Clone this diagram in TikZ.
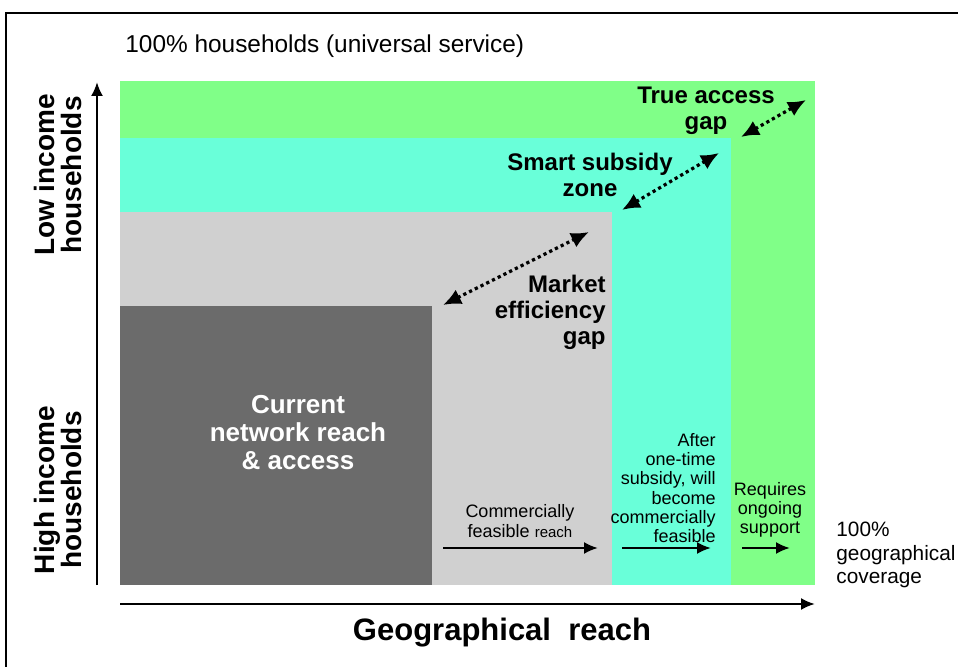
\documentclass[tikz,border=0pt]{standalone}
\usepackage{fontspec}
\setmainfont{Liberation Sans}
\usetikzlibrary{arrows.meta}
\definecolor{zonegreen}{HTML}{80FF88}
\definecolor{zonecyan}{HTML}{69FFD9}
\definecolor{zonegrey}{HTML}{D0D0D0}
\definecolor{reachgrey}{HTML}{6B6B6B}

\begin{document}
\begin{tikzpicture}[x=0.5pt, y=-0.5pt,
      zonelabel/.style={font=\bfseries\fontsize{12}{13}\selectfont, align=center, inner sep=0pt},
      smalllabel/.style={font=\fontsize{9}{9.6}\selectfont, align=center, inner sep=0pt},
      sidelabel/.style={font=\bfseries\fontsize{14}{13.5}\selectfont, align=center, rotate=90, inner sep=0pt},
      gaparrow/.style={{Latex[length=9pt,width=8pt]}-{Latex[length=9pt,width=8pt]}, line width=1.6pt, dash pattern=on 1.6pt off 1.6pt},
      reacharrow/.style={-{Latex[length=7pt,width=6pt]}, line width=1.1pt},
      axisarrow/.style={-{Latex[length=7pt,width=6pt]}, line width=1.1pt}
    ]
      \useasboundingbox (0,0) rectangle (958,667);
      \draw[line width=1.2pt] (6,667) -- (6,13) -- (958,13);
      % zones
      \fill[zonegreen] (120,81) rectangle (815,585);
      \fill[zonecyan] (120,138) rectangle (731,585);
      \fill[zonegrey] (120,212) rectangle (612,585);
      \fill[reachgrey] (120,306) rectangle (432,585);
      % axes
      \coordinate (o) at (97,585);
      \coordinate (ytop) at (97,82);
      \coordinate (xl) at (120,604);
      \coordinate (xr) at (815,604);
      \draw[axisarrow] (o) -- (ytop);
      \draw[axisarrow] (xl) -- (xr);
      \node[font=\bfseries\fontsize{15.5}{16}\selectfont] (xt) at (502,633) {Geographical\ \ reach};
      \node[font=\fontsize{12.2}{13}\selectfont, anchor=west, inner sep=0pt] (top) at (125,46) {100\% households (universal service)};
      \node[sidelabel] (low) at (58,175) {Low income\\households};
      \node[sidelabel] (high) at (58,490) {High income\\households};
      \node[font=\fontsize{10.4}{11.6}\selectfont, align=left, anchor=west, inner sep=0pt] (full) at (836,555) {100\%\\geographical\\coverage};
      % zone labels
      \node[font=\bfseries\fontsize{13}{14}\selectfont, text=white, align=center, inner sep=0pt] (cur) at (298,433) {Current\\network reach\\\& access};
      \node[zonelabel, align=right, anchor=east] (meg) at (606,312) {Market\\efficiency\\gap};
      \node[zonelabel] (ssz) at (590,175) {Smart subsidy\\zone};
      \node[zonelabel] (tag) at (706,111) {True access\\gap};
      % gap arrows
      \coordinate (g1a) at (443,305);
      \coordinate (g1b) at (589,232);
      \coordinate (g2a) at (622,210);
      \coordinate (g2b) at (719,153);
      \coordinate (g3a) at (741,137);
      \coordinate (g3b) at (806,100);
      \draw[gaparrow] (g1a) -- (g1b);
      \draw[gaparrow] (g2a) -- (g2b);
      \draw[gaparrow] (g3a) -- (g3b);
      % reach labels
      \node[smalllabel] (cf) at (520,521) {Commercially\\feasible {\fontsize{7.5}{9}\selectfont reach}};
      \node[smalllabel, align=right, anchor=east] (ots) at (716,488) {After\\one-time\\subsidy, will\\become\\commercially\\feasible};
      \node[smalllabel] (ros) at (770,510) {Requires\\ongoing\\support};
      \coordinate (r1a) at (443,548);
      \coordinate (r1b) at (598,548);
      \coordinate (r2a) at (622,548);
      \coordinate (r2b) at (711,548);
      \coordinate (r3a) at (742,548);
      \coordinate (r3b) at (790,548);
      \draw[reacharrow] (r1a) -- (r1b);
      \draw[reacharrow] (r2a) -- (r2b);
      \draw[reacharrow] (r3a) -- (r3b);
    \end{tikzpicture}
\end{document}
